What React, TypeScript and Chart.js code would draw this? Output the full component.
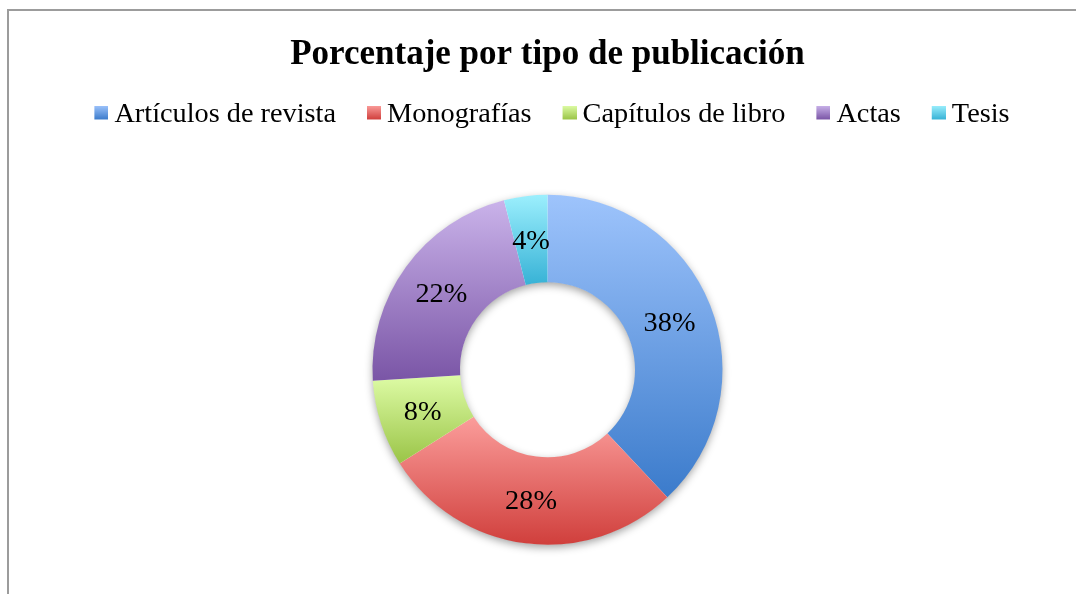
import React, { useEffect, useRef } from "react";
import { Chart, registerables } from "chart.js";

Chart.register(...registerables);

// ---- data ----
const categories = ["Artículos de revista", "Monografías", "Capítulos de libro", "Actas", "Tesis"];
const percentages = [38, 28, 8, 22, 4];
const topColors = ["#9EC4FC", "#FB9D9B", "#DEFCA6", "#CAB3EA", "#9CEFFD"];
const bottomColors = ["#3B7BCB", "#D03F3C", "#9AC447", "#7A55A6", "#37B2D6"];
const titleText = "Porcentaje por tipo de publicación";

const SERIF = "'Liberation Serif', 'Times New Roman', serif";
const LABEL_SIZE = 28.3;

function arcYRange(arc: any): [number, number] {
  const { y, startAngle, endAngle, innerRadius, outerRadius } = arc;
  const ys = [
    y + outerRadius * Math.sin(startAngle),
    y + outerRadius * Math.sin(endAngle),
    y + innerRadius * Math.sin(startAngle),
    y + innerRadius * Math.sin(endAngle),
  ];
  for (let k = -1; k <= 2; k++) {
    const down = Math.PI / 2 + 2 * Math.PI * k;
    const up = -Math.PI / 2 + 2 * Math.PI * k;
    if (down >= startAngle && down <= endAngle) ys.push(y + outerRadius);
    if (up >= startAngle && up <= endAngle) ys.push(y - outerRadius);
  }
  return [Math.min(...ys), Math.max(...ys)];
}

const gradientPlugin = {
  id: "sliceGradient",
  afterDatasetsUpdate(chart: any) {
    const ctx = chart.ctx;
    chart.getDatasetMeta(0).data.forEach((arc: any, i: number) => {
      const [y0, y1] = arcYRange(arc);
      const g = ctx.createLinearGradient(0, y0, 0, y1);
      g.addColorStop(0, topColors[i]);
      g.addColorStop(1, bottomColors[i]);
      arc.options = { ...arc.options, backgroundColor: g };
    });
  },
};

const shadowPlugin = {
  id: "ringShadow",
  beforeDatasetsDraw(chart: any) {
    const arc: any = chart.getDatasetMeta(0).data[0];
    if (!arc) return;
    const { x, y, innerRadius, outerRadius } = arc;
    const ctx = chart.ctx;
    ctx.save();
    ctx.shadowColor = "rgba(0,0,0,0.38)";
    ctx.shadowBlur = 8;
    ctx.shadowOffsetY = 3;
    ctx.beginPath();
    ctx.arc(x, y, outerRadius - 0.5, 0, Math.PI * 2);
    ctx.arc(x, y, innerRadius + 0.5, 0, Math.PI * 2, true);
    ctx.fillStyle = "#ffffff";
    ctx.fill();
    ctx.restore();
  },
};

const labelPlugin = {
  id: "sliceLabels",
  afterDatasetsDraw(chart: any) {
    const ctx = chart.ctx;
    ctx.save();
    ctx.font = `${LABEL_SIZE}px ${SERIF}`;
    ctx.fillStyle = "#000";
    ctx.textAlign = "center";
    ctx.textBaseline = "middle";
    chart.getDatasetMeta(0).data.forEach((arc: any, i: number) => {
      const p = arc.tooltipPosition(false);
      ctx.fillText(`${percentages[i]}%`, p.x, p.y + 2);
    });
    ctx.restore();
  },
};

// legend marker: 31x18 canvas, 14x14 square at the top-right
function makeIcon(top: string, bottom: string): HTMLCanvasElement {
  const c = document.createElement("canvas");
  c.width = 31;
  c.height = 18;
  const g = c.getContext("2d")!;
  const grad = g.createLinearGradient(0, 0, 0, 14);
  grad.addColorStop(0, top);
  grad.addColorStop(1, bottom);
  g.fillStyle = grad;
  g.fillRect(17, 0, 14, 14);
  return c;
}

export default function App() {
  const ref = useRef<HTMLCanvasElement | null>(null);

  useEffect(() => {
    if (!ref.current) return;
    const icons = categories.map((_, i) => makeIcon(topColors[i], bottomColors[i]));
    const chart = new Chart(ref.current, {
      type: "doughnut",
      data: {
        labels: categories,
        datasets: [
          {
            data: percentages,
            backgroundColor: bottomColors,
            borderWidth: 0,
          },
        ],
      },
      options: {
        responsive: false,
        maintainAspectRatio: false,
        animation: false,
        events: [],
        radius: 175,
        cutout: "50%",
        layout: { padding: { left: 19, right: 0, top: 0, bottom: 9.15 } },
        plugins: {
          title: {
            display: true,
            text: titleText,
            color: "#000",
            font: { family: SERIF, size: 35, weight: "bold", lineHeight: 1.0 },
            padding: { top: 37.5, bottom: 5.85 },
          },
          legend: {
            display: true,
            position: "top",
            labels: {
              usePointStyle: true,
              pointStyleWidth: 14.85,
              padding: 22,
              color: "#000",
              font: { family: SERIF, size: LABEL_SIZE },
              generateLabels: () =>
                categories.map((text, i) => ({
                  text,
                  fillStyle: bottomColors[i],
                  strokeStyle: "rgba(0,0,0,0)",
                  lineWidth: 0,
                  pointStyle: icons[i],
                  hidden: false,
                  index: i,
                  fontColor: "#000",
                })),
            },
          },
          tooltip: { enabled: false },
        },
      } as any,
      plugins: [gradientPlugin, shadowPlugin, labelPlugin],
    });
    return () => chart.destroy();
  }, []);

  return (
    <div
      style={{
        position: "fixed",
        left: 0,
        top: 0,
        width: 1076,
        height: 594,
        overflow: "hidden",
        background: "#fff",
      }}
    >
      <div
        style={{
          position: "absolute",
          left: 7,
          top: 9,
          width: 1200,
          height: 700,
          borderLeft: "2px solid #9c9c9c",
          borderTop: "2px solid #9c9c9c",
        }}
      />
      <canvas
        ref={ref}
        width={1076}
        height={610}
        style={{ position: "absolute", left: 0, top: 0, width: 1076, height: 610 }}
      />
    </div>
  );
}
